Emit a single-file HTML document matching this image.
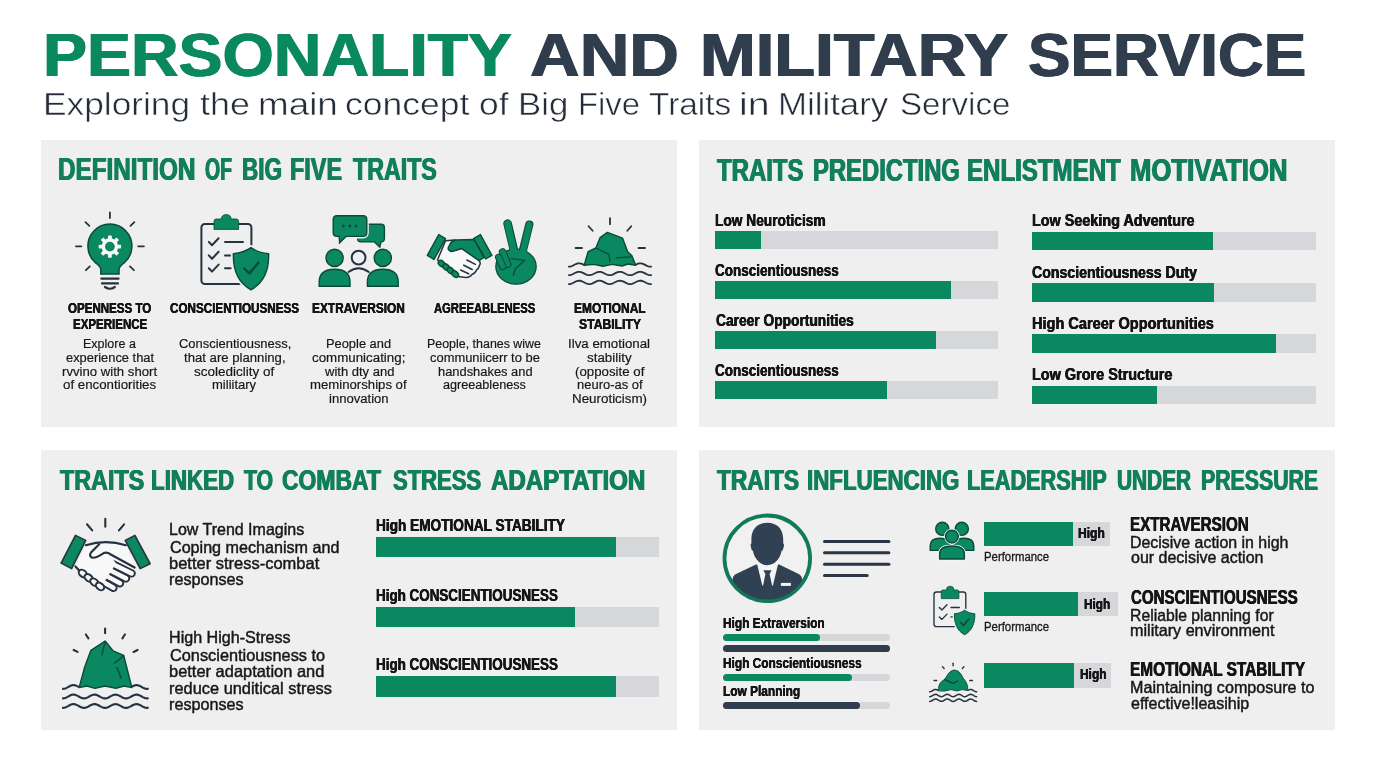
<!DOCTYPE html>
<html lang="en"><head><meta charset="utf-8"><title>Personality and Military Service</title>
<style>
html,body{margin:0;padding:0}
body{width:1376px;height:768px;position:relative;overflow:hidden;background:#fff;font-family:"Liberation Sans",sans-serif}
h1,h2,h3,p,header,ul,li{margin:0;padding:0;font-size:inherit;font-weight:inherit;list-style:none}
.t{position:absolute;white-space:nowrap;line-height:1;transform-origin:0 0;margin:0;display:block}
.b{font-weight:bold}
.panel{position:absolute;background:#efefef}
.bar{position:absolute;background:#d5d7db}
.bar i{position:absolute;left:0;top:0;bottom:0;display:block}
.rb{border-radius:4px}.rb i{border-radius:4px}
svg.icons{position:absolute;left:0;top:0;pointer-events:none}
.s-title{font-size:61.63px;text-shadow:0.7px 0 0 currentColor,-0.7px 0 0 currentColor;}
.s-sub{font-size:30.52px;color:#232c38;-webkit-text-stroke:0.5px #ffffff}
.s-hp1{font-size:31.98px;color:#117e5c;text-shadow:0.7px 0 0 currentColor,-0.7px 0 0 currentColor;}
.s-hp2{font-size:31.98px;color:#117e5c;text-shadow:0.7px 0 0 currentColor,-0.7px 0 0 currentColor;}
.s-hp3{font-size:30.23px;color:#117e5c;text-shadow:0.7px 0 0 currentColor,-0.7px 0 0 currentColor;}
.s-hp4{font-size:30.09px;color:#117e5c;text-shadow:0.7px 0 0 currentColor,-0.7px 0 0 currentColor;}
.s-lab{font-size:15.19px;color:#151515;text-shadow:0.3px 0 0 currentColor,-0.3px 0 0 currentColor;}
.s-desc{font-size:13.66px;color:#171717;-webkit-text-stroke:0.2px #171717}
.s-barlab{font-size:17.22px;color:#151515;text-shadow:0.35px 0 0 currentColor,-0.35px 0 0 currentColor;}
.s-p3txt{font-size:16.5px;color:#171717;-webkit-text-stroke:0.45px #171717}
.s-barlab3{font-size:16.86px;color:#151515;text-shadow:0.35px 0 0 currentColor,-0.35px 0 0 currentColor;}
.s-p4lab{font-size:14.53px;color:#151515;text-shadow:0.2px 0 0 currentColor,-0.2px 0 0 currentColor;}
.s-perf{font-size:12.21px;color:#171717;-webkit-text-stroke:0.3px #171717}
.s-high{font-size:14.24px;color:#151515;text-shadow:0.3px 0 0 currentColor,-0.3px 0 0 currentColor;}
.s-trait{font-size:20.06px;color:#151515;text-shadow:0.4px 0 0 currentColor,-0.4px 0 0 currentColor;}
.s-tdesc{font-size:16.06px;color:#171717;-webkit-text-stroke:0.45px #171717}
</style></head>
<body>
<header>
<h1><span class="t b s-title" style="left:43.42px;top:24px;color:#0a8860;transform:scaleX(1.0701)">PERSONALITY</span> <span class="t b s-title" style="left:530.08px;top:24px;color:#2f3d4c;transform:scaleX(1.1161)">AND</span> <span class="t b s-title" style="left:699.86px;top:24px;color:#2f3d4c;transform:scaleX(1.0851)">MILITARY</span> <span class="t b s-title" style="left:1028.17px;top:24px;color:#2f3d4c;transform:scaleX(1.0329)">SERVICE</span></h1>
<p><span class="t s-sub" style="left:43.19px;top:89px;transform:scaleX(1.1562)">Exploring</span> <span class="t s-sub" style="left:200.00px;top:89px;transform:scaleX(1.1761)">the</span> <span class="t s-sub" style="left:257.59px;top:89px;transform:scaleX(1.2064)">main</span> <span class="t s-sub" style="left:345.09px;top:89px;transform:scaleX(1.1631)">concept</span> <span class="t s-sub" style="left:479.34px;top:89px;transform:scaleX(1.1613)">of</span> <span class="t s-sub" style="left:518.22px;top:89px;transform:scaleX(1.1400)">Big</span> <span class="t s-sub" style="left:577.85px;top:89px;transform:scaleX(1.0745)">Five</span> <span class="t s-sub" style="left:648.75px;top:89px;transform:scaleX(1.0948)">Traits</span> <span class="t s-sub" style="left:739.42px;top:89px;transform:scaleX(1.2892)">in</span> <span class="t s-sub" style="left:777.72px;top:89px;transform:scaleX(1.1403)">Military</span> <span class="t s-sub" style="left:900.17px;top:89px;transform:scaleX(1.0849)">Service</span></p>
</header>
<section class="panel" id="p1" style="left:40.5px;top:140px;width:636.5px;height:287.25px">
<h2><span class="t b s-hp1" style="left:17.98px;top:13px;transform:scaleX(0.7585)">DEFINITION</span> <span class="t b s-hp1" style="left:164.09px;top:13px;transform:scaleX(0.6089)">OF</span> <span class="t b s-hp1" style="left:201.29px;top:13px;transform:scaleX(0.7051)">BIG</span> <span class="t b s-hp1" style="left:249.48px;top:13px;transform:scaleX(0.7325)">FIVE</span> <span class="t b s-hp1" style="left:312.70px;top:13px;transform:scaleX(0.7263)">TRAITS</span></h2>
<div class="t b s-lab" style="left:27.55px;top:160px;transform:scaleX(0.7608)">OPENNESS TO</div>
<div class="t b s-lab" style="left:32.04px;top:176px;transform:scaleX(0.7585)">EXPERIENCE</div>
<div class="t b s-lab" style="left:129.30px;top:160px;transform:scaleX(0.7682)">CONSCIENTIOUSNESS</div>
<div class="t b s-lab" style="left:271.77px;top:160px;transform:scaleX(0.7830)">EXTRAVERSION</div>
<div class="t b s-lab" style="left:393.80px;top:160px;transform:scaleX(0.7406)">AGREEABLENESS</div>
<div class="t b s-lab" style="left:533.26px;top:160px;transform:scaleX(0.7864)">EMOTIONAL</div>
<div class="t b s-lab" style="left:538.55px;top:176px;transform:scaleX(0.8017)">STABILITY</div>
<div class="t s-desc" style="left:42.18px;top:197px;transform:scaleX(0.9160)">Explore a</div>
<div class="t s-desc" style="left:25.10px;top:211px;transform:scaleX(0.9435)">experience that</div>
<div class="t s-desc" style="left:21.85px;top:225px;transform:scaleX(0.9639)">rvvino with short</div>
<div class="t s-desc" style="left:22.60px;top:238px;transform:scaleX(0.9737)">of encontiorities</div>
<div class="t s-desc" style="left:138.10px;top:197px;transform:scaleX(0.9484)">Conscientiousness,</div>
<div class="t s-desc" style="left:143.10px;top:211px;transform:scaleX(0.9624)">that are planning,</div>
<div class="t s-desc" style="left:153.60px;top:225px;transform:scaleX(0.9894)">scolediclity of</div>
<div class="t s-desc" style="left:171.60px;top:238px;transform:scaleX(0.9537)">miliitary</div>
<div class="t s-desc" style="left:285.41px;top:197px;transform:scaleX(0.9414)">People and</div>
<div class="t s-desc" style="left:271.85px;top:211px;transform:scaleX(0.9759)">communicating;</div>
<div class="t s-desc" style="left:284.05px;top:225px;transform:scaleX(0.9525)">with dty and</div>
<div class="t s-desc" style="left:269.85px;top:238px;transform:scaleX(0.9643)">meminorships of</div>
<div class="t s-desc" style="left:288.85px;top:252px;transform:scaleX(0.9576)">innovation</div>
<div class="t s-desc" style="left:386.94px;top:197px;transform:scaleX(0.9101)">People, thanes wiwe</div>
<div class="t s-desc" style="left:389.60px;top:211px;transform:scaleX(0.9461)">communiicerr to be</div>
<div class="t s-desc" style="left:397.10px;top:225px;transform:scaleX(0.9440)">handshakes and</div>
<div class="t s-desc" style="left:402.85px;top:238px;transform:scaleX(0.9252)">agreeableness</div>
<div class="t s-desc" style="left:527.88px;top:197px;transform:scaleX(0.9739)">Ilva emotional</div>
<div class="t s-desc" style="left:546.85px;top:211px;transform:scaleX(0.9801)">stability</div>
<div class="t s-desc" style="left:534.60px;top:225px;transform:scaleX(0.9718)">(opposite of</div>
<div class="t s-desc" style="left:536.60px;top:238px;transform:scaleX(0.9497)">neuro-as of</div>
<div class="t s-desc" style="left:531.62px;top:252px;transform:scaleX(0.9795)">Neuroticism)</div>
</section>
<section class="panel" id="p2" style="left:698.5px;top:140px;width:636.5px;height:287.25px">
<h2><span class="t b s-hp2" style="left:18.60px;top:14px;transform:scaleX(0.7488)">TRAITS</span> <span class="t b s-hp2" style="left:114.21px;top:14px;transform:scaleX(0.7450)">PREDICTING</span> <span class="t b s-hp2" style="left:268.69px;top:14px;transform:scaleX(0.7528)">ENLISTMENT</span> <span class="t b s-hp2" style="left:431.99px;top:14px;transform:scaleX(0.8038)">MOTIVATION</span></h2>
<div class="bar" style="left:16.5px;top:90.5px;width:283.25px;height:18.5px"><i style="width:46px;background:#0a8860"></i></div>
<div class="bar" style="left:16.5px;top:140.5px;width:283.25px;height:18.5px"><i style="width:236px;background:#0a8860"></i></div>
<div class="bar" style="left:16.5px;top:191px;width:283.25px;height:18px"><i style="width:221px;background:#0a8860"></i></div>
<div class="bar" style="left:16.5px;top:241px;width:283.25px;height:18px"><i style="width:172.25px;background:#0a8860"></i></div>
<div class="bar" style="left:333.5px;top:91.75px;width:283.5px;height:18.25px"><i style="width:181px;background:#0a8860"></i></div>
<div class="bar" style="left:333.5px;top:143px;width:283.5px;height:18.5px"><i style="width:181.75px;background:#0a8860"></i></div>
<div class="bar" style="left:333.5px;top:194px;width:283.5px;height:18.5px"><i style="width:243.75px;background:#0a8860"></i></div>
<div class="bar" style="left:333.5px;top:245.5px;width:283.5px;height:18.25px"><i style="width:124.5px;background:#0a8860"></i></div>
<div class="t b s-barlab" style="left:16.05px;top:72px;transform:scaleX(0.7979)">Low Neuroticism</div>
<div class="t b s-barlab" style="left:16.85px;top:122px;transform:scaleX(0.7845)">Conscientiousness</div>
<div class="t b s-barlab" style="left:17.85px;top:172px;transform:scaleX(0.8006)">Career Opportunities</div>
<div class="t b s-barlab" style="left:16.85px;top:222px;transform:scaleX(0.7845)">Conscientiousness</div>
<div class="t b s-barlab" style="left:333.01px;top:72px;transform:scaleX(0.8364)">Low Seeking Adventure</div>
<div class="t b s-barlab" style="left:333.85px;top:124px;transform:scaleX(0.8217)">Conscientiousness Duty</div>
<div class="t b s-barlab" style="left:333.00px;top:175px;transform:scaleX(0.8457)">High Career Opportunities</div>
<div class="t b s-barlab" style="left:333.01px;top:226px;transform:scaleX(0.8391)">Low Grore Structure</div>
</section>
<section class="panel" id="p3" style="left:40.5px;top:450px;width:636.5px;height:279.75px">
<h2><span class="t b s-hp3" style="left:19.00px;top:15px;transform:scaleX(0.7716)">TRAITS</span> <span class="t b s-hp3" style="left:110.97px;top:15px;transform:scaleX(0.7396)">LINKED</span> <span class="t b s-hp3" style="left:203.20px;top:15px;transform:scaleX(0.7039)">TO</span> <span class="t b s-hp3" style="left:241.54px;top:15px;transform:scaleX(0.7583)">COMBAT</span> <span class="t b s-hp3" style="left:352.10px;top:15px;transform:scaleX(0.7282)">STRESS</span> <span class="t b s-hp3" style="left:450.20px;top:15px;transform:scaleX(0.7970)">ADAPTATION</span></h2>
<div class="bar" style="left:335.5px;top:86.75px;width:282.5px;height:20.25px"><i style="width:240.25px;background:#0a8860"></i></div>
<div class="bar" style="left:335.5px;top:156.75px;width:282.5px;height:20.25px"><i style="width:198.5px;background:#0a8860"></i></div>
<div class="bar" style="left:335.5px;top:226.25px;width:282.5px;height:20.25px"><i style="width:240.25px;background:#0a8860"></i></div>
<div class="t s-p3txt" style="left:128.86px;top:71px;transform:scaleX(0.9693)">Low Trend Imagins</div>
<div class="t s-p3txt" style="left:129.82px;top:89px;transform:scaleX(0.9771)">Coping mechanism and</div>
<div class="t s-p3txt" style="left:128.83px;top:105px;transform:scaleX(0.9993)">better stress-combat</div>
<div class="t s-p3txt" style="left:128.84px;top:121px;transform:scaleX(0.9809)">responses</div>
<div class="t s-p3txt" style="left:128.85px;top:179px;transform:scaleX(0.9756)">High High-Stress</div>
<div class="t s-p3txt" style="left:129.82px;top:197px;transform:scaleX(0.9891)">Conscientiousness to</div>
<div class="t s-p3txt" style="left:128.83px;top:213px;transform:scaleX(0.9962)">better adaptation and</div>
<div class="t s-p3txt" style="left:128.83px;top:230px;transform:scaleX(0.9926)">reduce unditical stress</div>
<div class="t s-p3txt" style="left:128.84px;top:246px;transform:scaleX(0.9809)">responses</div>
<div class="t b s-barlab3" style="left:335.64px;top:68px;transform:scaleX(0.8092)">High EMOTIONAL STABILITY</div>
<div class="t b s-barlab3" style="left:335.65px;top:138px;transform:scaleX(0.7960)">High CONSCIENTIOUSNESS</div>
<div class="t b s-barlab3" style="left:335.65px;top:207px;transform:scaleX(0.7960)">High CONSCIENTIOUSNESS</div>
</section>
<section class="panel" id="p4" style="left:698.5px;top:450px;width:636.5px;height:279.75px">
<h2><span class="t b s-hp4" style="left:18.60px;top:15px;transform:scaleX(0.7550)">TRAITS</span> <span class="t b s-hp4" style="left:108.47px;top:15px;transform:scaleX(0.7414)">INFLUENCING</span> <span class="t b s-hp4" style="left:268.51px;top:15px;transform:scaleX(0.7213)">LEADERSHIP</span> <span class="t b s-hp4" style="left:418.51px;top:15px;transform:scaleX(0.6929)">UNDER</span> <span class="t b s-hp4" style="left:502.29px;top:15px;transform:scaleX(0.7075)">PRESSURE</span></h2>
<div class="bar" style="left:285.5px;top:71.5px;width:126px;height:24.25px"><i style="width:89.25px;background:#0a8860"></i></div>
<div class="bar" style="left:285.5px;top:142px;width:133.5px;height:24.25px"><i style="width:94.25px;background:#0a8860"></i></div>
<div class="bar" style="left:285.5px;top:213.25px;width:126.75px;height:24.25px"><i style="width:90.25px;background:#0a8860"></i></div>
<div class="bar rb" style="left:24.25px;top:183.75px;width:167.5px;height:7px"><i style="width:97.5px;background:#0a8860"></i></div>
<div class="bar rb" style="left:24.25px;top:195px;width:167.5px;height:7px"><i style="width:167.5px;background:#2f3d4c"></i></div>
<div class="bar rb" style="left:24.25px;top:223.5px;width:167.5px;height:7px"><i style="width:129.25px;background:#0a8860"></i></div>
<div class="bar rb" style="left:24.25px;top:251.5px;width:167.5px;height:7px"><i style="width:136.75px;background:#2f3d4c"></i></div>
<div class="t b s-p4lab" style="left:24.70px;top:166px;transform:scaleX(0.8187)">High Extraversion</div>
<div class="t b s-p4lab" style="left:24.70px;top:206px;transform:scaleX(0.8187)">High Conscientiousness</div>
<div class="t b s-p4lab" style="left:24.70px;top:234px;transform:scaleX(0.8184)">Low Planning</div>
<div class="t s-perf" style="left:285.22px;top:101px;transform:scaleX(0.9324)">Performance</div>
<div class="t s-perf" style="left:285.22px;top:171px;transform:scaleX(0.9324)">Performance</div>
<div class="t b s-high" style="left:379.30px;top:76px;transform:scaleX(0.8455)">High</div>
<div class="t b s-high" style="left:385.05px;top:147px;transform:scaleX(0.8293)">High</div>
<div class="t b s-high" style="left:381.30px;top:217px;transform:scaleX(0.8374)">High</div>
<div class="t b s-trait" style="left:431.44px;top:64px;transform:scaleX(0.7580)">EXTRAVERSION</div>
<div class="t b s-trait" style="left:432.20px;top:137px;transform:scaleX(0.7520)">CONSCIENTIOUSNESS</div>
<div class="t b s-trait" style="left:431.43px;top:209px;transform:scaleX(0.7697)">EMOTIONAL STABILITY</div>
<div class="t s-tdesc" style="left:431.23px;top:84px;transform:scaleX(0.9925)">Decisive action in high</div>
<div class="t s-tdesc" style="left:432.22px;top:99px;transform:scaleX(0.9967)">our decisive action</div>
<div class="t s-tdesc" style="left:431.24px;top:157px;transform:scaleX(0.9818)">Reliable planning for</div>
<div class="t s-tdesc" style="left:431.22px;top:172px;transform:scaleX(1.0065)">military environment</div>
<div class="t s-tdesc" style="left:431.22px;top:229px;transform:scaleX(1.0040)">Maintaining composure to</div>
<div class="t s-tdesc" style="left:432.22px;top:245px;transform:scaleX(0.9990)">effective!leasihip</div>
</section>
<svg class="icons" width="1376" height="768" viewBox="0 0 1376 768" aria-hidden="true">
<g id="icon-bulb"><line x1="109.9" y1="212.4" x2="109.9" y2="218.1" stroke="#26323f" stroke-width="1.8" stroke-linecap="round"/><line x1="85.4487" y1="222.124" x2="89.3513" y2="225.876" stroke="#26323f" stroke-width="1.8" stroke-linecap="round"/><line x1="134.351" y1="222.124" x2="130.449" y2="225.876" stroke="#26323f" stroke-width="1.8" stroke-linecap="round"/><line x1="75.9" y1="246.3" x2="81.4" y2="246.3" stroke="#26323f" stroke-width="1.8" stroke-linecap="round"/><line x1="138.2" y1="246.3" x2="143.9" y2="246.3" stroke="#26323f" stroke-width="1.8" stroke-linecap="round"/><line x1="85.8547" y1="270.182" x2="89.8453" y2="266.418" stroke="#26323f" stroke-width="1.8" stroke-linecap="round"/><line x1="133.945" y1="270.182" x2="129.955" y2="266.418" stroke="#26323f" stroke-width="1.8" stroke-linecap="round"/><path d="M100.8 274 V269.5 C100.8 266 98 264.6 95 262.3 A22 22 0 1 1 124.8 262.3 C121.8 264.6 119 266 119 269.5 V274 Z" fill="#0a8860" stroke="#0b4a38" stroke-width="1.5"/><line x1="101.3" y1="278.6" x2="118.6" y2="278.6" stroke="#26323f" stroke-width="2.2" stroke-linecap="round"/><line x1="102" y1="283.4" x2="118" y2="283.4" stroke="#26323f" stroke-width="2.2" stroke-linecap="round"/><path d="M105 287 Q109.9 290.5 114.8 287" fill="none" stroke="#26323f" stroke-width="2.2" stroke-linecap="round" stroke-linejoin="round"/><g fill="#f8f8f8"><rect x="108" y="235.4" width="3.8" height="4.4" rx="0.8" transform="rotate(0 109.9 246.6)"/><rect x="108" y="235.4" width="3.8" height="4.4" rx="0.8" transform="rotate(45 109.9 246.6)"/><rect x="108" y="235.4" width="3.8" height="4.4" rx="0.8" transform="rotate(90 109.9 246.6)"/><rect x="108" y="235.4" width="3.8" height="4.4" rx="0.8" transform="rotate(135 109.9 246.6)"/><rect x="108" y="235.4" width="3.8" height="4.4" rx="0.8" transform="rotate(180 109.9 246.6)"/><rect x="108" y="235.4" width="3.8" height="4.4" rx="0.8" transform="rotate(225 109.9 246.6)"/><rect x="108" y="235.4" width="3.8" height="4.4" rx="0.8" transform="rotate(270 109.9 246.6)"/><rect x="108" y="235.4" width="3.8" height="4.4" rx="0.8" transform="rotate(315 109.9 246.6)"/></g><circle cx="109.9" cy="246.6" r="6.6" fill="none" stroke="#f8f8f8" stroke-width="3.4"/></g>
<g id="icon-clipboard"><rect x="201.4" y="224" width="50" height="60" rx="3.5" fill="none" stroke="#26323f" stroke-width="2"/><path d="M214 229.4 V221.3 Q214 219 216.3 219 H221.2 A5.1 5.1 0 0 1 231.3 219 H236.2 Q238.6 219 238.6 221.3 V229.4 Z" fill="#0a8860" stroke="#0b4a38" stroke-width="0.8"/><path d="M208.8 241.9 L212 245.3 L218.6 238.3" fill="none" stroke="#26323f" stroke-width="2" stroke-linecap="round" stroke-linejoin="round"/><path d="M208.8 255.4 L212 258.8 L218.6 251.8" fill="none" stroke="#26323f" stroke-width="2" stroke-linecap="round" stroke-linejoin="round"/><path d="M208.8 268.2 L212 271.6 L218.6 264.6" fill="none" stroke="#26323f" stroke-width="2" stroke-linecap="round" stroke-linejoin="round"/><line x1="225" y1="241.9" x2="243" y2="241.9" stroke="#26323f" stroke-width="2" stroke-linecap="round"/><line x1="225" y1="255.4" x2="230.6" y2="255.4" stroke="#26323f" stroke-width="2" stroke-linecap="round"/><line x1="225" y1="268.2" x2="230.6" y2="268.2" stroke="#26323f" stroke-width="2" stroke-linecap="round"/><path d="M251 247.6 C245.5 251.5 239.5 253.2 233.4 253.6 C232.8 270 238.5 283 251 289.8 C263.5 283 269.2 270 268.6 253.6 C262.5 253.2 256.5 251.5 251 247.6 Z" fill="#efefef" stroke="#efefef" stroke-width="5" stroke-linejoin="round"/><path d="M251 247.6 C245.5 251.5 239.5 253.2 233.4 253.6 C232.8 270 238.5 283 251 289.8 C263.5 283 269.2 270 268.6 253.6 C262.5 253.2 256.5 251.5 251 247.6 Z" fill="#0a8860" stroke="#0b4a38" stroke-width="1.4" stroke-linejoin="round"/><path d="M244.2 268.5 L249.3 273.4 L258.5 262.6" fill="none" stroke="#0b4a38" stroke-width="2.4" stroke-linecap="round" stroke-linejoin="round"/></g>
<g id="icon-extraversion"><path d="M361 224.3 H381 Q384.4 224.3 384.4 227.7 V238.5 Q384.4 241.9 381 241.9 L379.8 247.2 L374.5 241.9 H361 Q357.6 241.9 357.6 238.5 V227.7 Q357.6 224.3 361 224.3 Z" fill="#0a8860" stroke="#0b4a38" stroke-width="1.4"/><path d="M337 215.8 H363 Q366.8 215.8 366.8 219.6 V232.6 Q366.8 236.4 363 236.4 H346 L339.6 242.8 L339.2 236.4 H337 Q333.2 236.4 333.2 232.6 V219.6 Q333.2 215.8 337 215.8 Z" fill="#efefef" stroke="#efefef" stroke-width="4"/><path d="M337 215.8 H363 Q366.8 215.8 366.8 219.6 V232.6 Q366.8 236.4 363 236.4 H346 L339.6 242.8 L339.2 236.4 H337 Q333.2 236.4 333.2 232.6 V219.6 Q333.2 215.8 337 215.8 Z" fill="#0a8860" stroke="#0b4a38" stroke-width="1.4"/><circle cx="343.5" cy="226" r="1.4" fill="#0b4a38"/><circle cx="349.8" cy="226" r="1.4" fill="#0b4a38"/><circle cx="356.1" cy="226" r="1.4" fill="#0b4a38"/><circle cx="358.6" cy="257.6" r="6.9" fill="none" stroke="#26323f" stroke-width="2"/><path d="M348.5 272 Q358.6 264.5 368.8 272" fill="none" stroke="#26323f" stroke-width="2" stroke-linecap="round" stroke-linejoin="round"/><circle cx="334.6" cy="257.9" r="8.6" fill="#0a8860" stroke="#0b4a38" stroke-width="1.4"/><path d="M319.2 286.2 V282 C319.2 273 325.6 269.2 334.6 269.2 C343.6 269.2 350 273 350 282 V286.2 Z" fill="#0a8860" stroke="#0b4a38" stroke-width="1.4"/><circle cx="382.8" cy="257.9" r="8.6" fill="#0a8860" stroke="#0b4a38" stroke-width="1.4"/><path d="M367.4 286.2 V282 C367.4 273 373.8 269.2 382.8 269.2 C391.8 269.2 398.2 273 398.2 282 V286.2 Z" fill="#0a8860" stroke="#0b4a38" stroke-width="1.4"/></g>
<g id="icon-agreeableness"><path d="M445.5 240.7 L455 240 L449 248.5 L451.3 251.5 L461.7 248.5 L478.3 260 Q481.5 262.5 479.4 265.5 Q478.8 268.6 476.3 270.2 Q475.4 273.2 472 274.4 Q470 277.6 465.8 277.4 L458 276.5 L437.5 260 Z" fill="#f8f8f8" stroke="#26323f" stroke-width="1.5" stroke-linecap="round" stroke-linejoin="round"/><line x1="466.9" y1="260" x2="475.4" y2="264.4" stroke="#26323f" stroke-width="1.6" stroke-linecap="round"/><line x1="463.8" y1="265.2" x2="472.2" y2="269.5" stroke="#26323f" stroke-width="1.6" stroke-linecap="round"/><line x1="460.6" y1="270" x2="468.6" y2="273.8" stroke="#26323f" stroke-width="1.6" stroke-linecap="round"/><ellipse cx="441.6" cy="263.6" rx="2.7" ry="3.7" transform="rotate(-50 441.6 263.6)" fill="#0a8860" stroke="#0b4a38" stroke-width="1.4"/><ellipse cx="446.2" cy="267.2" rx="2.7" ry="3.7" transform="rotate(-50 446.2 267.2)" fill="#0a8860" stroke="#0b4a38" stroke-width="1.4"/><ellipse cx="450.7" cy="270.7" rx="2.7" ry="3.7" transform="rotate(-50 450.7 270.7)" fill="#0a8860" stroke="#0b4a38" stroke-width="1.4"/><ellipse cx="455.2" cy="274.2" rx="2.7" ry="3.7" transform="rotate(-50 455.2 274.2)" fill="#0a8860" stroke="#0b4a38" stroke-width="1.4"/><path d="M474 239.5 L456 240 Q452.5 240.3 450.3 243.5 L448.3 247.5 Q447.6 250.6 450.8 251.2 Q455 251 461.5 248.3 L479 260.6 L484 257.5 Z" fill="#0a8860" stroke="#0b4a38" stroke-width="1.4" stroke-linecap="round" stroke-linejoin="round"/><polygon points="438.75,234.5 445.5,238.6 434,259.5 427.3,255.3" fill="#0a8860" stroke="#0b4a38" stroke-width="1.4" stroke-linejoin="round"/><polygon points="480.4,234.5 491.9,255.3 485.6,259 473.6,238.6" fill="#0a8860" stroke="#0b4a38" stroke-width="1.4" stroke-linejoin="round"/><line x1="507.6" y1="223.6" x2="514.3" y2="251.7" stroke="#0b4a38" stroke-width="8.6" stroke-linecap="round"/><line x1="529.3" y1="224.6" x2="522.6" y2="251.7" stroke="#0b4a38" stroke-width="8.2" stroke-linecap="round"/><ellipse cx="516" cy="266.6" rx="20.2" ry="17.6" fill="#0a8860" stroke="#0b4a38" stroke-width="1.2"/><line x1="507.6" y1="223.6" x2="514.3" y2="253" stroke="#0a8860" stroke-width="6.6" stroke-linecap="round"/><line x1="529.3" y1="224.6" x2="522.6" y2="253" stroke="#0a8860" stroke-width="6.2" stroke-linecap="round"/><line x1="502.6" y1="251.9" x2="507.6" y2="264.2" stroke="#0b4a38" stroke-width="7.6" stroke-linecap="round"/><line x1="502.6" y1="251.9" x2="507.6" y2="264.2" stroke="#0a8860" stroke-width="5.6" stroke-linecap="round"/><line x1="498.6" y1="257.2" x2="502.8" y2="266.4" stroke="#0b4a38" stroke-width="7.2" stroke-linecap="round"/><line x1="498.6" y1="257.2" x2="502.8" y2="266.4" stroke="#0a8860" stroke-width="5.2" stroke-linecap="round"/><path d="M511.5 258.6 L524.4 260.4 L515.2 269 L513.4 275" fill="none" stroke="#0b4a38" stroke-width="1.4" stroke-linecap="round" stroke-linejoin="round"/></g>
<g id="icon-stability"><line x1="610" y1="218.2" x2="610" y2="224.2" stroke="#26323f" stroke-width="1.8" stroke-linecap="round"/><line x1="588.513" y1="226.259" x2="592.687" y2="230.741" stroke="#26323f" stroke-width="1.8" stroke-linecap="round"/><line x1="631.299" y1="226.27" x2="627.301" y2="230.73" stroke="#26323f" stroke-width="1.8" stroke-linecap="round"/><line x1="575.5" y1="248" x2="582" y2="248" stroke="#26323f" stroke-width="1.8" stroke-linecap="round"/><line x1="638.5" y1="248" x2="645" y2="248" stroke="#26323f" stroke-width="1.8" stroke-linecap="round"/><path d="M568.90 266.70 L569.90 266.62 L570.90 266.39 L571.91 266.02 L572.91 265.56 L573.91 265.05 L574.91 264.53 L575.92 264.05 L576.92 263.67 L577.92 263.41 L578.92 263.30 L579.93 263.35 L580.93 263.56 L581.93 263.91 L582.93 264.35 L583.94 264.86" fill="none" stroke="#26323f" stroke-width="1.8" stroke-linecap="round" stroke-linejoin="round"/><path d="M636.06 264.55 L637.07 264.08 L638.07 263.69 L639.07 263.42 L640.07 263.30 L641.08 263.35 L642.08 263.55 L643.08 263.89 L644.08 264.33 L645.09 264.84 L646.09 265.36 L647.09 265.85 L648.09 266.25 L649.10 266.54 L650.10 266.69 L651.10 266.67" fill="none" stroke="#26323f" stroke-width="1.8" stroke-linecap="round" stroke-linejoin="round"/><polygon points="584.2,265.2 588.1,251.7 595.9,248 600.1,237.6 607.4,232.4 622.5,238.1 627.7,251.7 631.9,255.8 635.7,265.2 628,264 622,266 612,264.4 603,266.2 594,264.4" fill="#0a8860" stroke="#0b4a38" stroke-width="1.4" stroke-linejoin="round"/><path d="M595.9 248 L609 254.3 L610 261.5" fill="none" stroke="#0b4a38" stroke-width="1.3" stroke-linecap="round" stroke-linejoin="round"/><path d="M616.3 257.9 L630.8 256.9" fill="none" stroke="#0b4a38" stroke-width="1.3" stroke-linecap="round" stroke-linejoin="round"/><path d="M568.90 275.20 L569.90 275.12 L570.90 274.89 L571.91 274.52 L572.91 274.06 L573.91 273.55 L574.91 273.03 L575.92 272.55 L576.92 272.17 L577.92 271.91 L578.92 271.80 L579.93 271.85 L580.93 272.06 L581.93 272.41 L582.93 272.85 L583.94 273.36 L584.94 273.88 L585.94 274.37 L586.94 274.77 L587.95 275.05 L588.95 275.19 L589.95 275.17 L590.95 274.98 L591.96 274.66 L592.96 274.23 L593.96 273.73 L594.96 273.21 L595.97 272.71 L596.97 272.29 L597.97 271.99 L598.97 271.82 L599.98 271.82 L600.98 271.97 L601.98 272.27 L602.98 272.69 L603.99 273.18 L604.99 273.70 L605.99 274.21 L606.99 274.64 L608.00 274.97 L609.00 275.16 L610.00 275.19 L611.00 275.07 L612.00 274.79 L613.01 274.39 L614.01 273.91 L615.01 273.39 L616.01 272.88 L617.02 272.43 L618.02 272.08 L619.02 271.86 L620.02 271.80 L621.03 271.90 L622.03 272.15 L623.03 272.53 L624.03 273.00 L625.04 273.52 L626.04 274.03 L627.04 274.50 L628.04 274.87 L629.05 275.11 L630.05 275.20 L631.05 275.13 L632.05 274.90 L633.06 274.54 L634.06 274.09 L635.06 273.57 L636.06 273.05 L637.07 272.58 L638.07 272.19 L639.07 271.92 L640.07 271.80 L641.08 271.85 L642.08 272.05 L643.08 272.39 L644.08 272.83 L645.09 273.34 L646.09 273.86 L647.09 274.35 L648.09 274.75 L649.10 275.04 L650.10 275.19 L651.10 275.17" fill="none" stroke="#26323f" stroke-width="1.8" stroke-linecap="round" stroke-linejoin="round"/><path d="M568.90 284.10 L569.90 284.02 L570.90 283.79 L571.91 283.42 L572.91 282.96 L573.91 282.45 L574.91 281.93 L575.92 281.45 L576.92 281.07 L577.92 280.81 L578.92 280.70 L579.93 280.75 L580.93 280.96 L581.93 281.31 L582.93 281.75 L583.94 282.26 L584.94 282.78 L585.94 283.27 L586.94 283.67 L587.95 283.95 L588.95 284.09 L589.95 284.07 L590.95 283.88 L591.96 283.56 L592.96 283.13 L593.96 282.63 L594.96 282.11 L595.97 281.61 L596.97 281.19 L597.97 280.89 L598.97 280.72 L599.98 280.72 L600.98 280.87 L601.98 281.17 L602.98 281.59 L603.99 282.08 L604.99 282.60 L605.99 283.11 L606.99 283.54 L608.00 283.87 L609.00 284.06 L610.00 284.09 L611.00 283.97 L612.00 283.69 L613.01 283.29 L614.01 282.81 L615.01 282.29 L616.01 281.78 L617.02 281.33 L618.02 280.98 L619.02 280.76 L620.02 280.70 L621.03 280.80 L622.03 281.05 L623.03 281.43 L624.03 281.90 L625.04 282.42 L626.04 282.93 L627.04 283.40 L628.04 283.77 L629.05 284.01 L630.05 284.10 L631.05 284.03 L632.05 283.80 L633.06 283.44 L634.06 282.99 L635.06 282.47 L636.06 281.95 L637.07 281.48 L638.07 281.09 L639.07 280.82 L640.07 280.70 L641.08 280.75 L642.08 280.95 L643.08 281.29 L644.08 281.73 L645.09 282.24 L646.09 282.76 L647.09 283.25 L648.09 283.65 L649.10 283.94 L650.10 284.09 L651.10 284.07" fill="none" stroke="#26323f" stroke-width="1.8" stroke-linecap="round" stroke-linejoin="round"/></g>
<g id="icon-handshake"><line x1="105.3" y1="518.75" x2="105.3" y2="526.65" stroke="#26323f" stroke-width="2.1" stroke-linecap="round"/><line x1="86.9833" y1="524.297" x2="92.2167" y2="530.403" stroke="#26323f" stroke-width="2.1" stroke-linecap="round"/><line x1="124.029" y1="524.307" x2="118.971" y2="530.393" stroke="#26323f" stroke-width="2.1" stroke-linecap="round"/><path d="M85.8 545.2 Q105.9 539 125.8 545.2 L134.6 567.5 L132 574 L113 588.5 L100 587 L80.5 571.9 L75.5 566.4 Z" fill="#f8f8f8" stroke="none" stroke-width="0" stroke-linecap="round" stroke-linejoin="round"/><path d="M85.8 545.2 Q105.9 539 125.8 545.2" fill="none" stroke="#26323f" stroke-width="2.2" stroke-linecap="round" stroke-linejoin="round"/><path d="M75.5 566.4 L80.5 571.9" fill="none" stroke="#26323f" stroke-width="2.2" stroke-linecap="round" stroke-linejoin="round"/><line x1="100.5" y1="580.4" x2="113.4" y2="587.8" stroke="#26323f" stroke-width="8.4" stroke-linecap="round"/><line x1="100.5" y1="580.4" x2="113.4" y2="587.8" stroke="#f8f8f8" stroke-width="4.6" stroke-linecap="round"/><line x1="104.4" y1="574.8" x2="120" y2="583.2" stroke="#26323f" stroke-width="8.4" stroke-linecap="round"/><line x1="104.4" y1="574.8" x2="120" y2="583.2" stroke="#f8f8f8" stroke-width="4.6" stroke-linecap="round"/><line x1="108.2" y1="569.2" x2="126" y2="578.4" stroke="#26323f" stroke-width="8.4" stroke-linecap="round"/><line x1="108.2" y1="569.2" x2="126" y2="578.4" stroke="#f8f8f8" stroke-width="4.6" stroke-linecap="round"/><line x1="112" y1="563.8" x2="131.6" y2="573.4" stroke="#26323f" stroke-width="8.4" stroke-linecap="round"/><line x1="112" y1="563.8" x2="131.6" y2="573.4" stroke="#f8f8f8" stroke-width="4.6" stroke-linecap="round"/><path d="M92 559 L110.3 555.6 L116 563.5 L104.6 581.6 L97 585.5 L82 572 Z" fill="#f8f8f8" stroke="none" stroke-width="0" stroke-linecap="round" stroke-linejoin="round"/><path d="M99.2 544.3 L91 552.5 Q88.6 556 92.3 557.7 Q95.5 558.4 103.7 553.1 Q107 551.6 110.3 554.2 L134.6 567.5" fill="#f8f8f8" stroke="#26323f" stroke-width="2.2" stroke-linecap="round" stroke-linejoin="round"/><ellipse cx="82.9" cy="573.6" rx="3.2" ry="4.6" transform="rotate(-52 82.9 573.6)" fill="#f8f8f8" stroke="#26323f" stroke-width="2"/><ellipse cx="88.7" cy="577.9" rx="3.2" ry="4.6" transform="rotate(-52 88.7 577.9)" fill="#f8f8f8" stroke="#26323f" stroke-width="2"/><ellipse cx="94.4" cy="582.2" rx="3.2" ry="4.6" transform="rotate(-52 94.4 582.2)" fill="#f8f8f8" stroke="#26323f" stroke-width="2"/><ellipse cx="100" cy="586.4" rx="3.2" ry="4.6" transform="rotate(-52 100 586.4)" fill="#f8f8f8" stroke="#26323f" stroke-width="2"/><polygon points="75.5,535.4 85.75,540.4 71.6,568.6 61.1,563.1" fill="#0a8860" stroke="#26323f" stroke-width="1.6" stroke-linejoin="round"/><polygon points="134.9,535.4 150.1,563.7 140.2,568.6 125.2,540.4" fill="#0a8860" stroke="#26323f" stroke-width="1.6" stroke-linejoin="round"/></g>
<g id="icon-rock"><line x1="105.1" y1="628.45" x2="105.1" y2="633.15" stroke="#26323f" stroke-width="2.1" stroke-linecap="round"/><line x1="85.8788" y1="634.476" x2="88.4212" y2="638.324" stroke="#26323f" stroke-width="2.1" stroke-linecap="round"/><line x1="124.921" y1="634.476" x2="122.379" y2="638.324" stroke="#26323f" stroke-width="2.1" stroke-linecap="round"/><line x1="73.6391" y1="649.97" x2="77.5609" y2="651.93" stroke="#26323f" stroke-width="2.1" stroke-linecap="round"/><line x1="137.558" y1="649.963" x2="133.542" y2="651.937" stroke="#26323f" stroke-width="2.1" stroke-linecap="round"/><path d="M63.00 688.90 L64.01 688.81 L65.02 688.56 L66.03 688.17 L67.04 687.67 L68.05 687.11 L69.06 686.55 L70.07 686.02 L71.08 685.58 L72.09 685.27 L73.10 685.11 L74.10 685.13 L75.11 685.32 L76.12 685.66 L77.13 686.12 L78.14 686.66" fill="none" stroke="#26323f" stroke-width="2.1" stroke-linecap="round" stroke-linejoin="round"/><path d="M132.66 686.22 L133.67 685.74 L134.68 685.38 L135.69 685.16 L136.70 685.10 L137.70 685.22 L138.71 685.50 L139.72 685.92 L140.73 686.43 L141.74 687.00 L142.75 687.56 L143.76 688.08 L144.77 688.49 L145.78 688.78 L146.79 688.90 L147.80 688.85" fill="none" stroke="#26323f" stroke-width="2.1" stroke-linecap="round" stroke-linejoin="round"/><polygon points="79.1,687.6 84.7,667 90.9,650.3 105.1,641 113.2,650.9 123.7,655.3 131.9,687.6 124,686 116,688.4 105,686 95,688.4 87,686" fill="#0a8860" stroke="#0b4a38" stroke-width="1.4" stroke-linejoin="round"/><path d="M105.1 641.7 L102 654.7" fill="none" stroke="#0b4a38" stroke-width="1.4" stroke-linecap="round" stroke-linejoin="round"/><path d="M123.7 655.9 L114.4 663.3" fill="none" stroke="#0b4a38" stroke-width="1.4" stroke-linecap="round" stroke-linejoin="round"/><path d="M116.9 667.6 L121.2 678.2" fill="none" stroke="#0b4a38" stroke-width="1.4" stroke-linecap="round" stroke-linejoin="round"/><path d="M63.00 698.40 L64.01 698.31 L65.02 698.06 L66.03 697.67 L67.04 697.17 L68.05 696.61 L69.06 696.05 L70.07 695.52 L71.08 695.08 L72.09 694.77 L73.10 694.61 L74.10 694.63 L75.11 694.82 L76.12 695.16 L77.13 695.62 L78.14 696.16 L79.15 696.73 L80.16 697.28 L81.17 697.76 L82.18 698.13 L83.19 698.34 L84.20 698.40 L85.21 698.28 L86.22 698.00 L87.23 697.58 L88.24 697.07 L89.25 696.50 L90.26 695.94 L91.27 695.42 L92.28 695.01 L93.29 694.72 L94.30 694.60 L95.30 694.65 L96.31 694.87 L97.32 695.24 L98.33 695.72 L99.34 696.27 L100.35 696.84 L101.36 697.38 L102.37 697.84 L103.38 698.18 L104.39 698.37 L105.40 698.39 L106.41 698.23 L107.42 697.92 L108.43 697.48 L109.44 696.96 L110.45 696.39 L111.46 695.83 L112.47 695.33 L113.48 694.94 L114.49 694.69 L115.50 694.60 L116.50 694.69 L117.51 694.93 L118.52 695.33 L119.53 695.82 L120.54 696.38 L121.55 696.95 L122.56 697.48 L123.57 697.92 L124.58 698.23 L125.59 698.39 L126.60 698.37 L127.61 698.18 L128.62 697.85 L129.63 697.39 L130.64 696.85 L131.65 696.27 L132.66 695.72 L133.67 695.24 L134.68 694.88 L135.69 694.66 L136.70 694.60 L137.70 694.72 L138.71 695.00 L139.72 695.42 L140.73 695.93 L141.74 696.50 L142.75 697.06 L143.76 697.58 L144.77 697.99 L145.78 698.28 L146.79 698.40 L147.80 698.35" fill="none" stroke="#26323f" stroke-width="2.1" stroke-linecap="round" stroke-linejoin="round"/><path d="M63.00 707.90 L64.01 707.81 L65.02 707.56 L66.03 707.17 L67.04 706.67 L68.05 706.11 L69.06 705.55 L70.07 705.02 L71.08 704.58 L72.09 704.27 L73.10 704.11 L74.10 704.13 L75.11 704.32 L76.12 704.66 L77.13 705.12 L78.14 705.66 L79.15 706.23 L80.16 706.78 L81.17 707.26 L82.18 707.63 L83.19 707.84 L84.20 707.90 L85.21 707.78 L86.22 707.50 L87.23 707.08 L88.24 706.57 L89.25 706.00 L90.26 705.44 L91.27 704.92 L92.28 704.51 L93.29 704.22 L94.30 704.10 L95.30 704.15 L96.31 704.37 L97.32 704.74 L98.33 705.22 L99.34 705.77 L100.35 706.34 L101.36 706.88 L102.37 707.34 L103.38 707.68 L104.39 707.87 L105.40 707.89 L106.41 707.73 L107.42 707.42 L108.43 706.98 L109.44 706.46 L110.45 705.89 L111.46 705.33 L112.47 704.83 L113.48 704.44 L114.49 704.19 L115.50 704.10 L116.50 704.19 L117.51 704.43 L118.52 704.83 L119.53 705.32 L120.54 705.88 L121.55 706.45 L122.56 706.98 L123.57 707.42 L124.58 707.73 L125.59 707.89 L126.60 707.87 L127.61 707.68 L128.62 707.35 L129.63 706.89 L130.64 706.35 L131.65 705.77 L132.66 705.22 L133.67 704.74 L134.68 704.38 L135.69 704.16 L136.70 704.10 L137.70 704.22 L138.71 704.50 L139.72 704.92 L140.73 705.43 L141.74 706.00 L142.75 706.56 L143.76 707.08 L144.77 707.49 L145.78 707.78 L146.79 707.90 L147.80 707.85" fill="none" stroke="#26323f" stroke-width="2.1" stroke-linecap="round" stroke-linejoin="round"/></g>
<g id="icon-avatar"><defs><clipPath id="avclip"><circle cx="767.3" cy="558.3" r="41.5"/></clipPath></defs><circle cx="767.3" cy="558.3" r="42.8" fill="#f1f1f1" stroke="#117a59" stroke-width="3.8"/><g clip-path="url(#avclip)"><path d="M756 564.5 L735.5 574.2 Q732.8 575.8 732.5 579 V606 H802.2 V579 Q801.9 575.8 799.2 574.2 L779.2 564.5 Z" fill="#314154"/><path d="M756.6 562 H778.6 L773 585 L767.6 592 L762.2 585 Z" fill="#f4f4f4"/><path d="M763.4 570.2 H771.6 L769.6 574 L772.4 587 L767.6 593 L762.8 587 L765.4 574 Z" fill="#314154"/><rect x="780.9" y="582.9" width="10" height="3" fill="#f4f4f4"/></g><path d="M767.3 522.8 C777 522.8 783.2 529 783.2 539 V543.5 Q784.3 543.8 783.9 546 L783 549.5 Q782.6 551 781.6 550.8 C780.4 558.5 774.6 565.2 767.3 565.2 C760 565.2 754.2 558.5 753 550.8 Q752 551 751.6 549.5 L750.7 546 Q750.3 543.8 751.4 543.5 V539 C751.4 529 757.6 522.8 767.3 522.8 Z" fill="#314154"/><line x1="824.5" y1="541.4" x2="888.9" y2="541.4" stroke="#2a3644" stroke-width="3" stroke-linecap="round"/><line x1="824.5" y1="552.8" x2="888.9" y2="552.8" stroke="#2a3644" stroke-width="3" stroke-linecap="round"/><line x1="824.5" y1="564.2" x2="888.9" y2="564.2" stroke="#2a3644" stroke-width="3" stroke-linecap="round"/><line x1="824.5" y1="575.5" x2="867.2" y2="575.5" stroke="#2a3644" stroke-width="3" stroke-linecap="round"/></g>
<g id="icon-group"><circle cx="942.3" cy="528.8" r="6.6" fill="#0a8860" stroke="#0b4a38" stroke-width="1.4"/><circle cx="961.8" cy="528.8" r="6.6" fill="#0a8860" stroke="#0b4a38" stroke-width="1.4"/><path d="M930.2 550.4 V545.764 C930.2 540.64 934.16 538.2 940.1 538.2 C946.04 538.2 950 540.64 950 545.764 V550.4 Z" fill="#0a8860" stroke="#0b4a38" stroke-width="1.4"/><path d="M954 550.4 V545.764 C954 540.64 957.96 538.2 963.9 538.2 C969.84 538.2 973.8 540.64 973.8 545.764 V550.4 Z" fill="#0a8860" stroke="#0b4a38" stroke-width="1.4"/><circle cx="951.9" cy="536.6" r="7.8" fill="#f8f8f8"/><path d="M939.6 559 V554.06 C939.6 548.6 944.56 546 952 546 C959.44 546 964.4 548.6 964.4 554.06 V559 Z" fill="#f8f8f8" stroke="#f8f8f8" stroke-width="3" stroke-linejoin="round"/><circle cx="951.9" cy="536.6" r="6.4" fill="#0a8860" stroke="#0b4a38" stroke-width="1.4"/><path d="M939.6 559 V554.06 C939.6 548.6 944.56 546 952 546 C959.44 546 964.4 548.6 964.4 554.06 V559 Z" fill="#0a8860" stroke="#0b4a38" stroke-width="1.4" stroke-linejoin="round"/></g>
<g id="icon-clipboard-small"><rect x="934" y="592" width="31.8" height="34.6" rx="2.4" fill="none" stroke="#26323f" stroke-width="1.35"/><path d="M941.3 598.6 V591.6 Q941.3 590 942.9 590 H946.3 A3.8 3.8 0 0 1 953.9 590 H957.3 Q958.9 590 958.9 591.6 V598.6 Z" fill="#0a8860" stroke="#0b4a38" stroke-width="0.8"/><path d="M939.4 607.5 L941.9 610 L947 604.7" fill="none" stroke="#26323f" stroke-width="1.35" stroke-linecap="round" stroke-linejoin="round"/><path d="M939.4 616.9 L941.9 619.4 L947 614.1" fill="none" stroke="#26323f" stroke-width="1.35" stroke-linecap="round" stroke-linejoin="round"/><line x1="951" y1="607.5" x2="959.4" y2="607.5" stroke="#26323f" stroke-width="1.35" stroke-linecap="round"/><line x1="951" y1="616.9" x2="953.5" y2="616.9" stroke="#26323f" stroke-width="1.35" stroke-linecap="round"/><path d="M964.6 610.2 C961.4 612.5 957.9 613.5 954.4 613.7 C954 623.3 957.3 630.9 964.6 634.8 C971.9 630.9 975.2 623.3 974.8 613.7 C971.3 613.5 967.8 612.5 964.6 610.2 Z" fill="#efefef" stroke="#efefef" stroke-width="3.4" stroke-linejoin="round"/><path d="M964.6 610.2 C961.4 612.5 957.9 613.5 954.4 613.7 C954 623.3 957.3 630.9 964.6 634.8 C971.9 630.9 975.2 623.3 974.8 613.7 C971.3 613.5 967.8 612.5 964.6 610.2 Z" fill="#0a8860" stroke="#0b4a38" stroke-width="0.9" stroke-linejoin="round"/><path d="M960.6 622.4 L963.6 625.3 L969 618.9" fill="none" stroke="#0b4a38" stroke-width="1.7" stroke-linecap="round" stroke-linejoin="round"/></g>
<g id="icon-rock-small"><line x1="953.1" y1="663.3" x2="953.1" y2="665.8" stroke="#26323f" stroke-width="1.4" stroke-linecap="round"/><line x1="942.458" y1="666.629" x2="944.142" y2="668.571" stroke="#26323f" stroke-width="1.4" stroke-linecap="round"/><line x1="963.863" y1="666.647" x2="962.337" y2="668.553" stroke="#26323f" stroke-width="1.4" stroke-linecap="round"/><line x1="934.1" y1="680.5" x2="936.7" y2="680.5" stroke="#26323f" stroke-width="1.4" stroke-linecap="round"/><line x1="969.8" y1="680.5" x2="972.4" y2="680.5" stroke="#26323f" stroke-width="1.4" stroke-linecap="round"/><path d="M929.70 691.80 L930.72 691.62 L931.74 691.15 L932.76 690.51 L933.78 689.90 L934.80 689.50 L935.82 689.41 L936.84 689.68 L937.86 690.21" fill="none" stroke="#26323f" stroke-width="1.5" stroke-linecap="round" stroke-linejoin="round"/><path d="M968.44 690.15 L969.46 689.64 L970.48 689.40 L971.50 689.52 L972.52 689.96 L973.54 690.58 L974.56 691.21 L975.58 691.66 L976.60 691.80" fill="none" stroke="#26323f" stroke-width="1.5" stroke-linecap="round" stroke-linejoin="round"/><path d="M938.5 690.6 C938.3 684 940.5 682 944.5 679.5 C947 676.5 948 672 953 670.2 C958 669.5 960.8 673 963 678 C966.5 682 968 685 967.8 690.6 L962 689.6 L957 691 L951 689.6 L945 691 Z" fill="#0a8860" stroke="#0b4a38" stroke-width="0.9" stroke-linecap="round" stroke-linejoin="round"/><path d="M944.5 679.5 L953 683.4 L957.5 681" fill="none" stroke="#0b4a38" stroke-width="1.4" stroke-linecap="round" stroke-linejoin="round"/><path d="M929.70 696.70 L930.72 696.52 L931.74 696.05 L932.76 695.41 L933.78 694.80 L934.80 694.40 L935.82 694.31 L936.84 694.58 L937.86 695.11 L938.88 695.76 L939.90 696.33 L940.92 696.66 L941.93 696.65 L942.95 696.31 L943.97 695.72 L944.99 695.08 L946.01 694.56 L947.03 694.31 L948.05 694.41 L949.07 694.83 L950.09 695.45 L951.11 696.08 L952.13 696.54 L953.15 696.70 L954.17 696.51 L955.19 696.02 L956.21 695.38 L957.23 694.78 L958.25 694.38 L959.27 694.32 L960.29 694.60 L961.31 695.14 L962.33 695.79 L963.35 696.35 L964.37 696.67 L965.38 696.64 L966.40 696.28 L967.42 695.69 L968.44 695.05 L969.46 694.54 L970.48 694.30 L971.50 694.42 L972.52 694.86 L973.54 695.48 L974.56 696.11 L975.58 696.56 L976.60 696.70" fill="none" stroke="#26323f" stroke-width="1.5" stroke-linecap="round" stroke-linejoin="round"/><path d="M929.70 701.40 L930.72 701.22 L931.74 700.75 L932.76 700.11 L933.78 699.50 L934.80 699.10 L935.82 699.01 L936.84 699.28 L937.86 699.81 L938.88 700.46 L939.90 701.03 L940.92 701.36 L941.93 701.35 L942.95 701.01 L943.97 700.42 L944.99 699.78 L946.01 699.26 L947.03 699.01 L948.05 699.11 L949.07 699.53 L950.09 700.15 L951.11 700.78 L952.13 701.24 L953.15 701.40 L954.17 701.21 L955.19 700.72 L956.21 700.08 L957.23 699.48 L958.25 699.08 L959.27 699.02 L960.29 699.30 L961.31 699.84 L962.33 700.49 L963.35 701.05 L964.37 701.37 L965.38 701.34 L966.40 700.98 L967.42 700.39 L968.44 699.75 L969.46 699.24 L970.48 699.00 L971.50 699.12 L972.52 699.56 L973.54 700.18 L974.56 700.81 L975.58 701.26 L976.60 701.40" fill="none" stroke="#26323f" stroke-width="1.5" stroke-linecap="round" stroke-linejoin="round"/></g>
</svg>
</body></html>
